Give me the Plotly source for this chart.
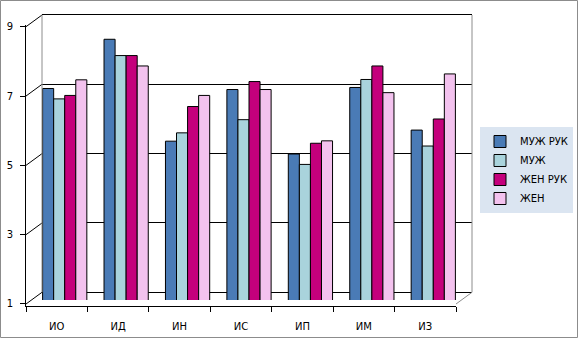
import plotly.graph_objects as go

categories = ["ИО", "ИД", "ИН", "ИС", "ИП", "ИМ", "ИЗ"]
series_names = ["МУЖ РУК", "МУЖ", "ЖЕН РУК", "ЖЕН"]
muzh_ruk = [7.05, 8.47, 5.53, 7.02, 5.16, 7.08, 5.85]
muzh = [6.75, 8.0, 5.77, 6.15, 4.86, 7.31, 5.39]
zhen_ruk = [6.85, 8.0, 6.53, 7.25, 5.47, 7.70, 6.17]
zhen = [7.30, 7.70, 6.85, 7.02, 5.54, 6.93, 7.47]
y_ticks = [1, 3, 5, 7, 9]
colors = ["#4a7bb6", "#a9d3dc", "#c4007c", "#f3c2ee"]

W, H = 578, 338
def fx(p):
    return p / W
def fy(p):
    return 1 - p / H

# pixel geometry (3D-like frame)
FRONT_L, FRONT_R = 26, 456
BACK_L, BACK_R = 42, 472
FRONT_Y1, FRONT_Y9 = 304, 26.7
BACK_Y1, BACK_Y9 = 292.3, 15
BAR_Y1, BAR_Y9 = 298.2, 20.9
BAR_L, BAR_R = 34, 464
PAD = 0.05  # value padding so edge gridlines are drawn

def dom(y1, y9):
    per = (y1 - y9) / 8.0
    return [fy(y1 + PAD * per), fy(y9 - PAD * per)]

fig = go.Figure()
fig.add_trace(go.Scatter(x=categories, y=muzh_ruk, mode="markers", marker=dict(opacity=0),
                         showlegend=False, hoverinfo="skip", xaxis="x", yaxis="y"))
for name, vals, col in zip(series_names, [muzh_ruk, muzh, zhen_ruk, zhen], colors):
    fig.add_trace(go.Bar(x=categories, y=vals, name=name,
                         marker=dict(color=col, line=dict(color="black", width=1)),
                         xaxis="x2", yaxis="y2"))
fig.add_trace(go.Scatter(x=categories, y=muzh_ruk, mode="markers", marker=dict(opacity=0),
                         showlegend=False, hoverinfo="skip", xaxis="x3", yaxis="y3"))

font = dict(family="DejaVu Sans", size=10, color="black")
hidden = dict(showticklabels=False, showline=False, showgrid=False, zeroline=False, ticks="",
              automargin=False)

fig.update_layout(
    width=W, height=H, autosize=False,
    margin=dict(l=0, r=0, t=0, b=0, autoexpand=False),
    paper_bgcolor="white", plot_bgcolor="rgba(0,0,0,0)",
    barmode="group", bargap=0.28, bargroupgap=0,
    font=font,
    xaxis=dict(domain=[fx(BACK_L), fx(BACK_R)], anchor="y", type="category",
               categoryorder="array", categoryarray=categories, **hidden),
    yaxis=dict(domain=dom(BACK_Y1, BACK_Y9), anchor="x", range=[1 - PAD, 9 + PAD],
               tickvals=y_ticks, showticklabels=False, showline=False, showgrid=True,
               gridcolor="black", gridwidth=1, zeroline=False, ticks="", automargin=False),
    xaxis2=dict(domain=[fx(BAR_L), fx(BAR_R)], anchor="y2", type="category",
                categoryorder="array", categoryarray=categories, **hidden),
    yaxis2=dict(domain=dom(BAR_Y1, BAR_Y9), anchor="x2", range=[1 - PAD, 9 + PAD], **hidden),
    xaxis3=dict(domain=[fx(FRONT_L), fx(FRONT_R)], anchor="y3", type="category",
                categoryorder="array", categoryarray=categories, range=[-0.5, 6.5],
                showline=True, linecolor="black", linewidth=1, showgrid=False, zeroline=False,
                ticks="outside", tickson="boundaries", ticklen=5, tickcolor="black",
                ticklabelstandoff=11, tickfont=font, automargin=False),
    yaxis3=dict(domain=dom(FRONT_Y1, FRONT_Y9), anchor="x3", range=[1 - PAD, 9 + PAD],
                tickvals=y_ticks, showline=True, linecolor="black", linewidth=1,
                showgrid=False, zeroline=False, automargin=False,
                ticks="outside", ticklen=5, tickcolor="black", ticklabelstandoff=5, tickfont=font),
    legend=dict(x=fx(480), y=fy(127), xanchor="left", yanchor="top",
                bgcolor="#dbe5f1", font=dict(family="DejaVu Sans", size=10, color="black"),
                tracegroupgap=0, itemwidth=30),
    showlegend=True,
)

def front_py(v):
    return FRONT_Y1 + (v - 1) * (FRONT_Y9 - FRONT_Y1) / 8
def back_py(v):
    return BACK_Y1 + (v - 1) * (BACK_Y9 - BACK_Y1) / 8

shapes = []
for v in y_ticks:
    shapes.append(dict(type="line", xref="paper", yref="paper",
                       x0=fx(FRONT_L), y0=fy(front_py(v)), x1=fx(BACK_L), y1=fy(back_py(v)),
                       line=dict(color="black", width=1)))
gray = dict(color="#8c8c8c", width=1)
shapes.append(dict(type="line", xref="paper", yref="paper",
                   x0=fx(BACK_L), y0=fy(BACK_Y1), x1=fx(BACK_L), y1=fy(BACK_Y9), line=gray))
shapes.append(dict(type="line", xref="paper", yref="paper",
                   x0=fx(BACK_R), y0=fy(BACK_Y1), x1=fx(BACK_R), y1=fy(BACK_Y9), line=gray))
shapes.append(dict(type="line", xref="paper", yref="paper",
                   x0=fx(FRONT_R), y0=fy(FRONT_Y1), x1=fx(BACK_R), y1=fy(BACK_Y1), line=gray))
shapes.append(dict(type="rect", xref="paper", yref="paper",
                   x0=fx(0.5), y0=fy(337.5), x1=fx(577.5), y1=fy(0.5), line=gray))
fig.update_layout(shapes=shapes)

fig.write_html("out.html", config={"displayModeBar": False},
               post_script="document.body.style.margin='0';document.body.style.overflow='hidden';")
